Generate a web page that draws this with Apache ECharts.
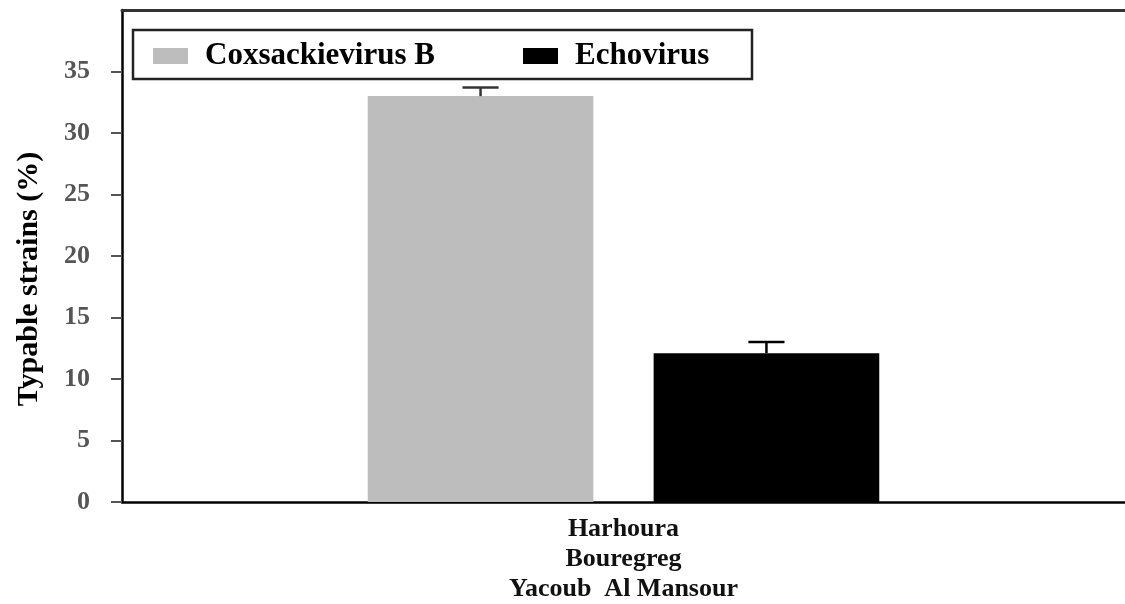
<!DOCTYPE html>
<html lang="en">

<head>
    <meta charset="UTF-8">
    <title>Typable strains</title>
    <script src="https://cdn.jsdelivr.net/npm/echarts@6/dist/echarts.min.js"></script>
    <style>
        html, body { margin: 0; padding: 0; background: #fff; }
        #main { width: 1125px; height: 604px; }
    </style>
</head>

<body>
    <div id="main"></div>
    <script>
        // data
        var categories = ['Harhoura\nBouregreg\nYacoub  Al Mansour'];
        var seriesNames = ['Coxsackievirus B', 'Echovirus'];
        var coxsackieValues = [33.0];
        var coxsackieErrors = [0.7];
        var echoValues = [12.1];
        var echoErrors = [0.9];
        var yTicks = [0, 5, 10, 15, 20, 25, 30, 35];

        var FONT = '"Liberation Serif", "Times New Roman", serif';
        var catGap = 0.49;   // barCategoryGap
        var barGap = 0.267;  // gap between the two bars

        var myChart = echarts.init(document.getElementById('main'));

        // upward error bar drawn over the matching bar
        function errorBar(side, color) {
            return function (params, api) {
                var cat = api.value(0);
                var v = api.value(1);
                var e = api.value(2);
                var band = api.size([1, 0])[0];
                var barW = band * (1 - catGap) / (2 + barGap);
                var off = side * barW * (1 + barGap) / 2;
                var p0 = api.coord([cat, v]);
                var p1 = api.coord([cat, v + e]);
                var x = p0[0] + off;
                var half = barW * 0.08;
                var style = { stroke: color, lineWidth: 2.5 };
                return {
                    type: 'group',
                    children: [
                        { type: 'line', shape: { x1: x, y1: p0[1], x2: x, y2: p1[1] }, style: style },
                        { type: 'line', shape: { x1: x - half, y1: p1[1], x2: x + half, y2: p1[1] }, style: style }
                    ]
                };
            };
        }

        // one legend per series so each entry sits where the figure puts it
        function legendAt(name, left) {
            return {
                data: [name],
                left: left, top: 39,
                padding: 0,
                icon: 'rect',
                itemWidth: 35, itemHeight: 16,
                textStyle: {
                    fontFamily: FONT, fontWeight: 'bold', fontSize: 31, lineHeight: 34,
                    color: '#000', padding: [0, 0, 0, 12]
                }
            };
        }

        var option = {
            animation: false,
            grid: { left: 122, top: 10, right: 0, bottom: 101 },
            graphic: [{
                type: 'text',
                x: 29, y: 279,
                rotation: Math.PI / 2,
                style: {
                    text: 'Typable strains (%)',
                    fontFamily: FONT, fontWeight: 'bold', fontSize: 30, fill: '#000',
                    align: 'center', verticalAlign: 'middle'
                }
            }, {
                // legend frame
                type: 'rect',
                shape: { x: 133, y: 30, width: 619, height: 49 },
                style: { fill: '#fff', stroke: '#222', lineWidth: 2.5 },
                z: 1
            }],
            legend: [legendAt(seriesNames[0], 153), legendAt(seriesNames[1], 523)],
            xAxis: [{
                type: 'category',
                data: categories,
                axisLine: { lineStyle: { color: '#000', width: 2.5 } },
                axisTick: { show: false },
                axisLabel: {
                    margin: 12, fontFamily: FONT, fontWeight: 'bold', fontSize: 26,
                    lineHeight: 30, color: '#111'
                }
            }, {
                // top frame line
                type: 'category',
                data: categories,
                position: 'top',
                axisLine: { lineStyle: { color: '#333', width: 3 } },
                axisTick: { show: false },
                axisLabel: { show: false }
            }],
            yAxis: {
                type: 'value',
                min: 0, max: 40, interval: 5,
                splitLine: { show: false },
                axisLine: { show: true, lineStyle: { color: '#000', width: 2.5 } },
                axisTick: { show: true, length: 11, customValues: yTicks, lineStyle: { color: '#555', width: 2 } },
                axisLabel: {
                    customValues: yTicks,
                    formatter: function (v) { return v >= 40 ? '' : v; },
                    margin: 32, fontFamily: FONT, fontWeight: 'bold', fontSize: 26, color: '#555'
                }
            },
            series: [{
                name: seriesNames[0],
                type: 'bar',
                data: coxsackieValues,
                barCategoryGap: (catGap * 100) + '%',
                barGap: (barGap * 100) + '%',
                itemStyle: { color: '#bdbdbd' }
            }, {
                name: seriesNames[1],
                type: 'bar',
                data: echoValues,
                barCategoryGap: (catGap * 100) + '%',
                barGap: (barGap * 100) + '%',
                itemStyle: { color: '#000' }
            }, {
                type: 'custom',
                name: 'errCox',
                renderItem: errorBar(-1, '#333'),
                data: coxsackieValues.map(function (v, i) { return [i, v, coxsackieErrors[i]]; }),
                z: 5
            }, {
                type: 'custom',
                name: 'errEcho',
                renderItem: errorBar(1, '#000'),
                data: echoValues.map(function (v, i) { return [i, v, echoErrors[i]]; }),
                z: 5
            }]
        };

        myChart.setOption(option);
    </script>
</body>

</html>
